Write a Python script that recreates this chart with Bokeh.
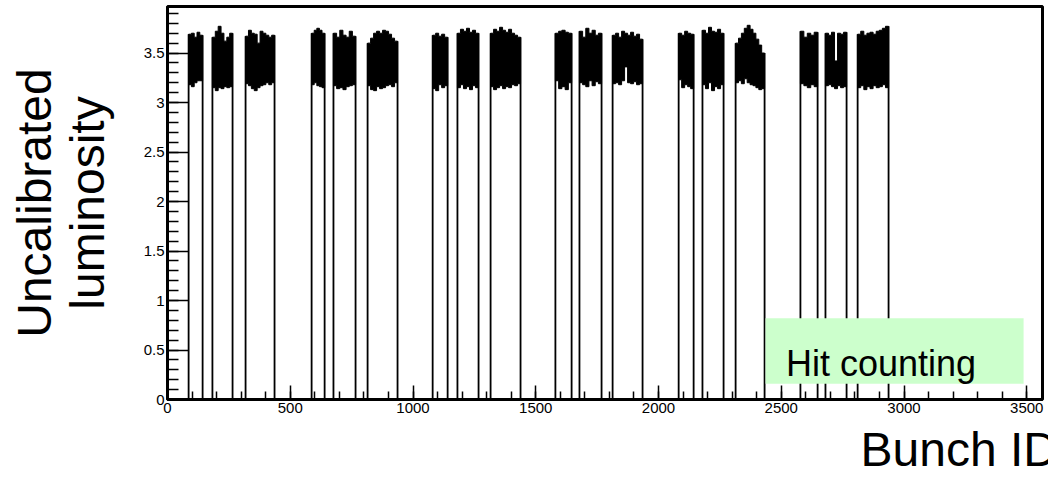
import numpy as np
from bokeh.plotting import figure
from bokeh.models import Range1d, FixedTicker, Label, ColumnDataSource, Title
from bokeh.embed import file_html
from bokeh.resources import INLINE

# Filled bunch trains: first and last bunch ID of each train
train_start = [86, 183, 318, 587, 676, 815, 1080, 1181, 1316,
               1580, 1678, 1813, 2082, 2179, 2314, 2578, 2680, 2811]
train_end = [143, 265, 436, 640, 766, 937, 1141, 1267, 1438,
             1646, 1768, 1935, 2143, 2265, 2432, 2648, 2766, 2937]

# Upper and lower envelope of the per-bunch luminosity along each train
train_top = [
    [3.69, 3.70, 3.66, 3.71, 3.68],
    [3.66, 3.72, 3.77, 3.70, 3.62, 3.66, 3.70],
    [3.67, 3.73, 3.70, 3.69, 3.60, 3.72, 3.70, 3.68, 3.66, 3.68],
    [3.70, 3.73, 3.75, 3.73, 3.70],
    [3.70, 3.66, 3.73, 3.68, 3.66, 3.72, 3.67],
    [3.60, 3.65, 3.70, 3.72, 3.70, 3.73, 3.72, 3.69, 3.65, 3.62],
    [3.68, 3.70, 3.67, 3.69, 3.66],
    [3.70, 3.74, 3.72, 3.75, 3.71, 3.73, 3.70],
    [3.70, 3.74, 3.72, 3.76, 3.73, 3.71, 3.74, 3.70, 3.68, 3.66],
    [3.70, 3.72, 3.73, 3.71, 3.70],
    [3.72, 3.66, 3.75, 3.70, 3.73, 3.68, 3.70],
    [3.68, 3.70, 3.66, 3.72, 3.70, 3.68, 3.71, 3.67, 3.69, 3.64],
    [3.70, 3.68, 3.72, 3.70, 3.69],
    [3.73, 3.70, 3.76, 3.72, 3.71, 3.74, 3.70],
    [3.60, 3.65, 3.70, 3.75, 3.78, 3.74, 3.70, 3.64, 3.58, 3.50],
    [3.72, 3.66, 3.70, 3.68, 3.71],
    [3.70, 3.68, 3.71, 3.42, 3.70, 3.69, 3.71],
    [3.69, 3.72, 3.68, 3.70, 3.71, 3.69, 3.72, 3.73, 3.75, 3.77],
]
train_bottom = [
    [3.18, 3.16, 3.20, 3.22, 3.22],
    [3.15, 3.12, 3.15, 3.14, 3.16, 3.15, 3.16],
    [3.19, 3.17, 3.14, 3.12, 3.15, 3.17, 3.18, 3.20, 3.18, 3.20],
    [3.18, 3.20, 3.17, 3.16, 3.15],
    [3.17, 3.14, 3.15, 3.13, 3.16, 3.17, 3.18],
    [3.17, 3.13, 3.12, 3.16, 3.14, 3.15, 3.17, 3.18, 3.16, 3.20],
    [3.14, 3.12, 3.18, 3.15, 3.17],
    [3.15, 3.18, 3.14, 3.16, 3.13, 3.17, 3.15],
    [3.16, 3.13, 3.15, 3.17, 3.14, 3.16, 3.15, 3.18, 3.17, 3.19],
    [3.22, 3.14, 3.16, 3.13, 3.20],
    [3.20, 3.18, 3.16, 3.22, 3.17, 3.21, 3.19],
    [3.19, 3.20, 3.18, 3.22, 3.36, 3.20, 3.19, 3.21, 3.18, 3.19],
    [3.23, 3.15, 3.18, 3.16, 3.14],
    [3.18, 3.14, 3.20, 3.12, 3.16, 3.14, 3.18],
    [3.20, 3.22, 3.19, 3.24, 3.20, 3.18, 3.17, 3.15, 3.13, 3.14],
    [3.19, 3.17, 3.15, 3.18, 3.16],
    [3.17, 3.18, 3.16, 3.14, 3.17, 3.15, 3.16],
    [3.15, 3.17, 3.13, 3.16, 3.14, 3.17, 3.15, 3.16, 3.18, 3.15],
]

x_major = [0, 500, 1000, 1500, 2000, 2500, 3000, 3500]
y_major = [0, 0.5, 1, 1.5, 2, 2.5, 3, 3.5]
y_major_text = ["0", "0.5", "1", "1.5", "2", "2.5", "3", "3.5"]

N_BCID = 3564
Y_MAX = 3.97

FONT = "Liberation Sans"

p = figure(width=1048, height=484,
           x_range=Range1d(0, N_BCID), y_range=Range1d(0, Y_MAX),
           output_backend="svg", toolbar_location=None,
           min_border_left=167, min_border_right=6,
           min_border_top=6, min_border_bottom=85)
p.xgrid.visible = False
p.ygrid.visible = False
p.background_fill_color = "white"
p.border_fill_color = "white"
p.outline_line_color = "black"
p.outline_line_width = 3

# Axes with ticks pointing into the frame
for ax in (p.xaxis[0], p.yaxis[0]):
    ax.axis_line_width = 3
    ax.major_tick_out = 0
    ax.minor_tick_out = 0
    ax.major_tick_line_width = 1.5
    ax.minor_tick_line_width = 1.5
    ax.major_label_text_font = FONT
    ax.major_label_text_font_size = "15px"
    ax.major_label_text_color = "black"

p.xaxis.ticker = FixedTicker(ticks=x_major,
                             minor_ticks=list(range(0, 3501, 100)))
p.xaxis.major_tick_in = 14
p.xaxis.minor_tick_in = 8
p.xaxis.major_label_standoff = 3

p.yaxis.ticker = FixedTicker(ticks=y_major,
                             minor_ticks=[round(0.1 * i, 1) for i in range(0, 40)])
p.yaxis.major_tick_in = 21
p.yaxis.minor_tick_in = 11
p.yaxis.major_label_standoff = 3
p.yaxis.major_label_overrides = {v: t for v, t in zip(y_major, y_major_text)}

# Two-line vertical title
p.yaxis.axis_label = "Uncalibrated\nluminosity"
p.yaxis.axis_label_text_font = FONT
p.yaxis.axis_label_text_font_size = "48px"
p.yaxis.axis_label_text_font_style = "normal"
p.yaxis.axis_label_text_color = "black"
p.yaxis.axis_label_text_line_height = 1.0
p.yaxis.axis_label_standoff = 27

# Luminosity band of each train as a stepped polygon between its envelopes
xs, ys = [], []
for s, e, top, bot in zip(train_start, train_end, train_top, train_bottom):
    edges = np.linspace(s, e, len(top) + 1)
    px, py = [], []
    for k, v in enumerate(top):
        px += [edges[k], edges[k + 1]]
        py += [v, v]
    for k in range(len(bot) - 1, -1, -1):
        px += [edges[k + 1], edges[k]]
        py += [bot[k], bot[k]]
    xs.append(px)
    ys.append(py)

p.patches(xs=xs, ys=ys, fill_color="black", line_color="black", line_width=1)

# Rising and falling histogram edges at the ends of each train
edge_src = ColumnDataSource(dict(
    x=train_start + train_end,
    y1=[t[0] for t in train_top] + [t[-1] for t in train_top],
))
p.segment(x0="x", y0=0, x1="x", y1="y1", source=edge_src,
          line_color="black", line_width=1.8)

# Legend box
p.quad(left=2436, right=3487, bottom=0.16, top=0.82,
       fill_color="#ccffcc", line_color=None)
p.add_layout(Label(x=2519, y=0.36, text="Hit counting",
                   text_font=FONT, text_font_size="36px",
                   text_color="black", text_baseline="alphabetic"))

# Horizontal title, placed towards the right end of the axis
p.add_layout(Title(text="Bunch ID", align="left", offset=693,
                   text_font=FONT, text_font_size="48px",
                   text_font_style="normal", text_color="black",
                   standoff=10), "below")

open("out.html", "w").write(file_html(p, INLINE))
